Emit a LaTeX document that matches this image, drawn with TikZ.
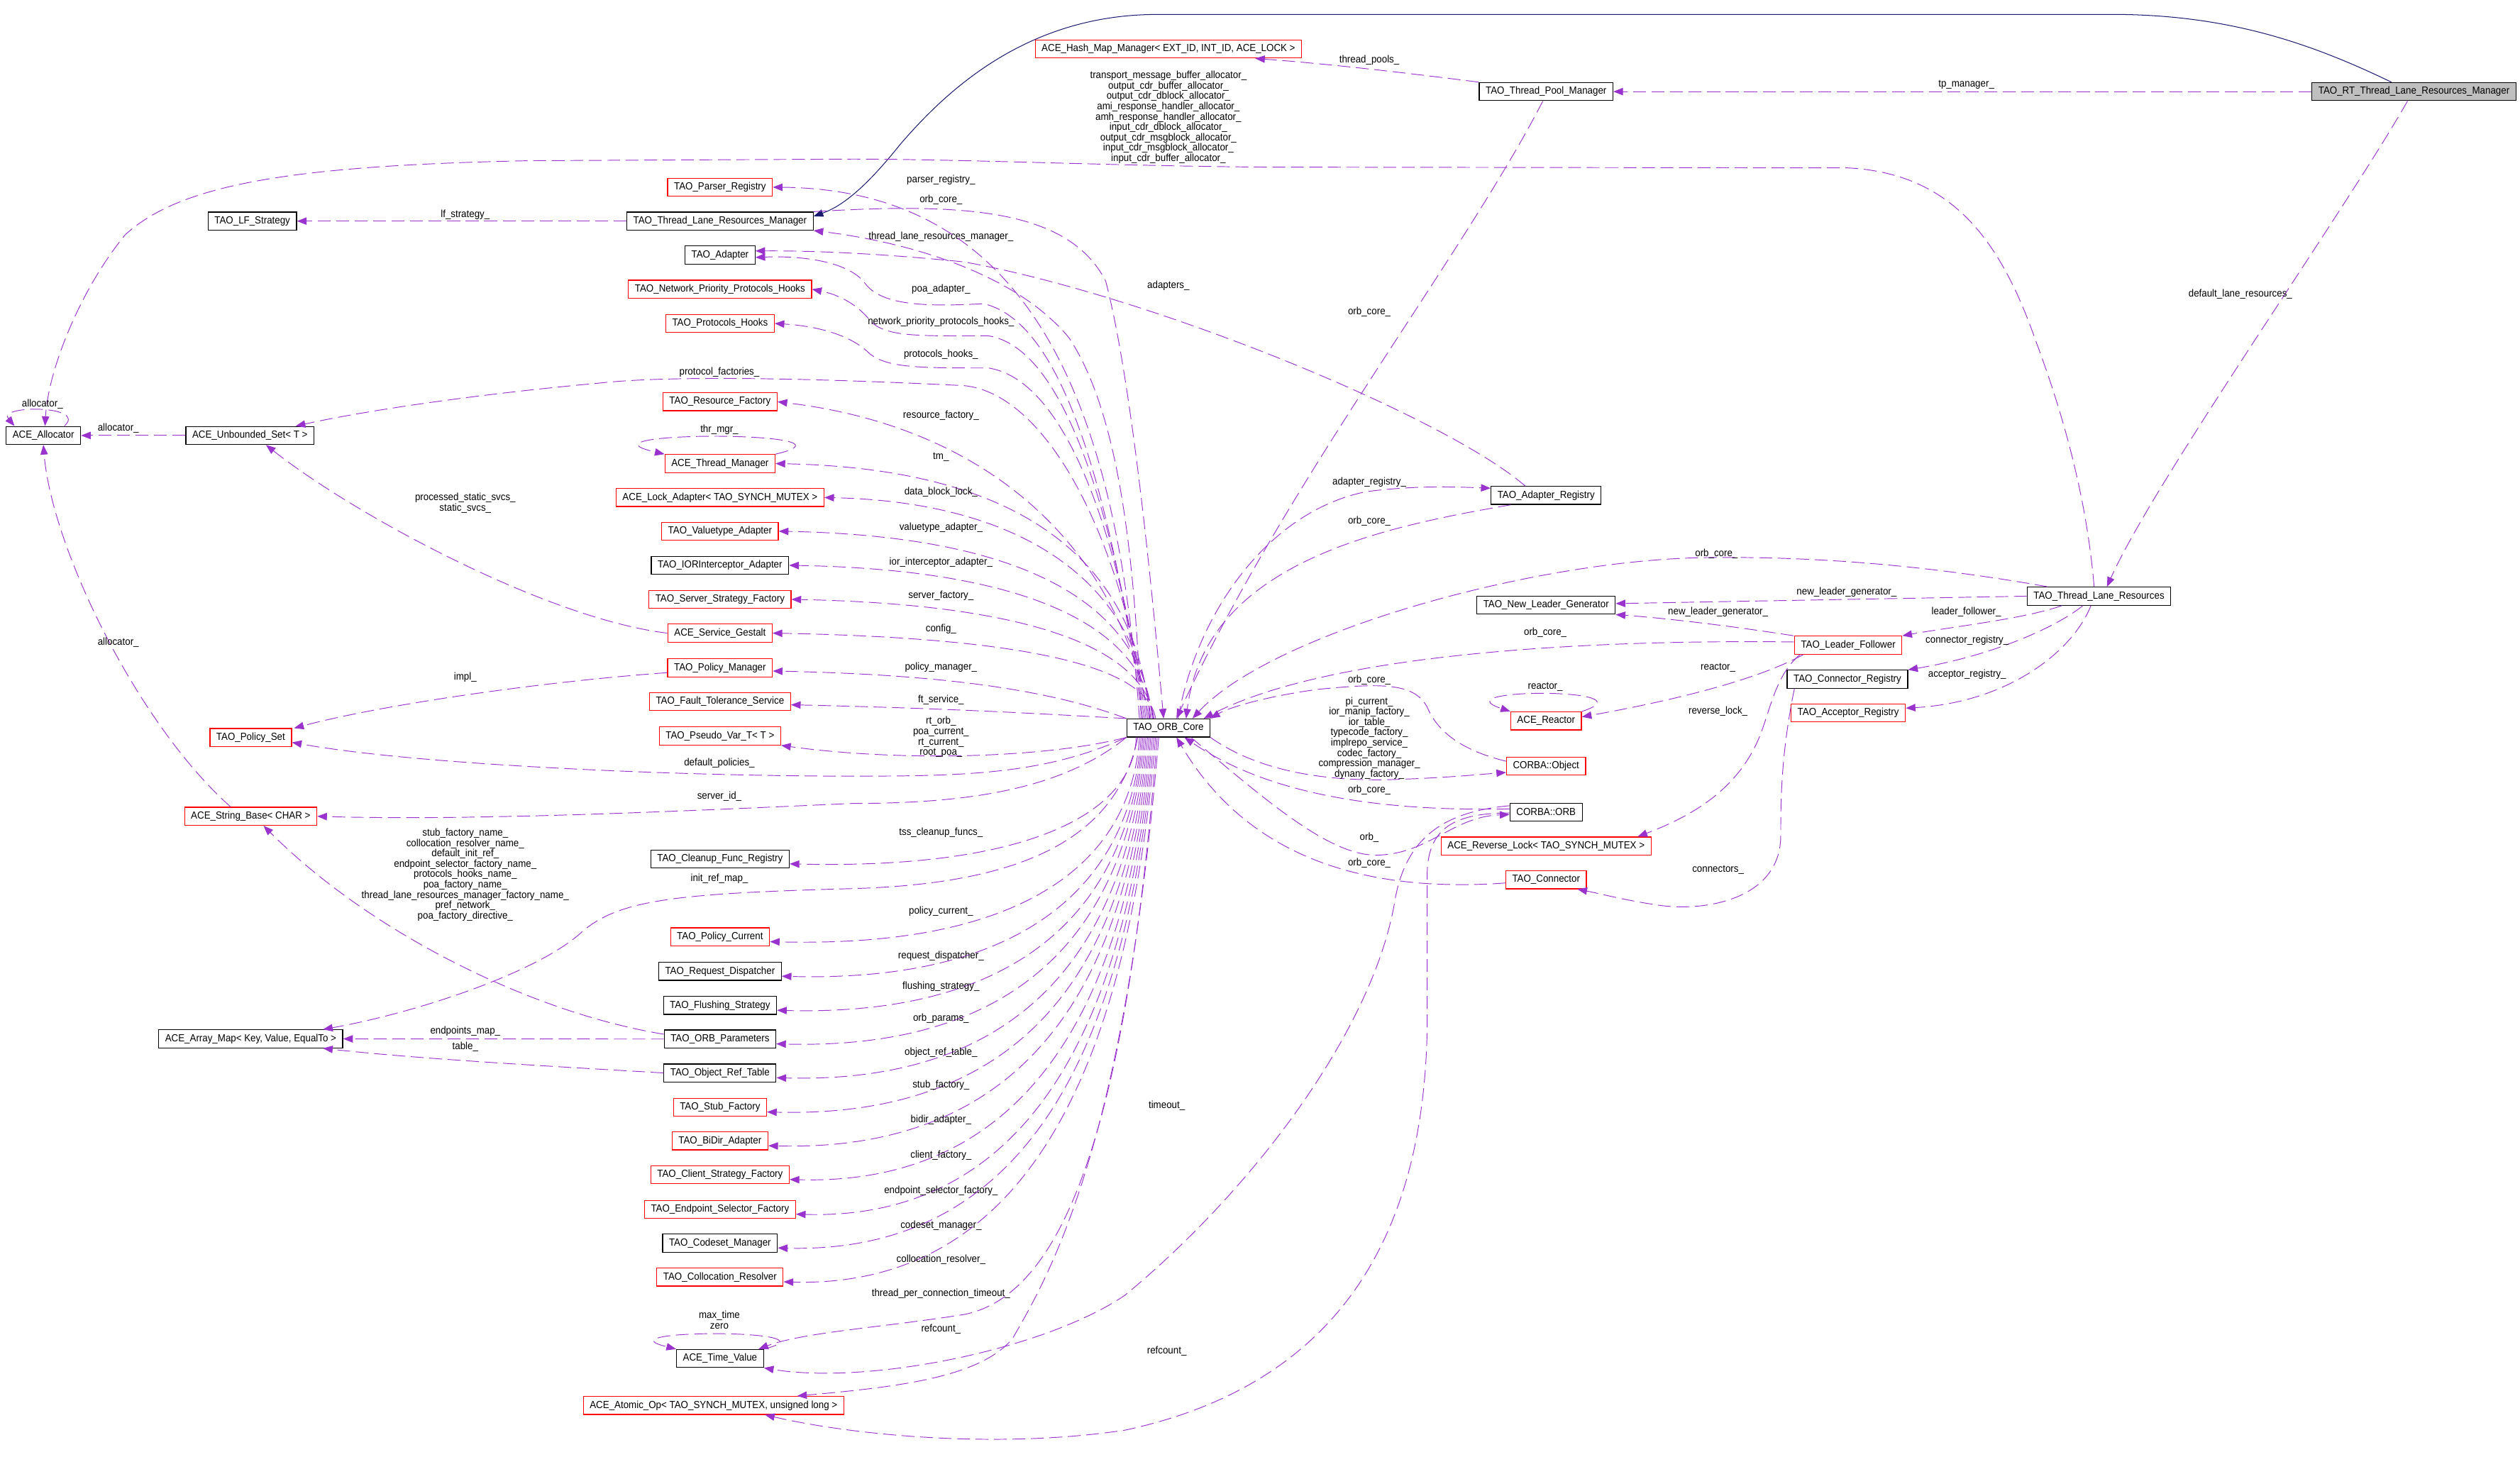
\documentclass[tikz,border=0pt]{standalone}
\usepackage{fontspec}
\newfontfamily\dotfont{Liberation Sans}[FakeStretch=0.92]
\usetikzlibrary{arrows.meta}
\definecolor{edgepurple}{HTML}{9A32CD}
\definecolor{basenavy}{HTML}{191970}
\definecolor{maingrey}{HTML}{BFBFBF}
\begin{document}
\begin{tikzpicture}[x=1pt, y=-1pt,
	cls/.style={draw=black, line width=0.55pt, inner xsep=4pt, inner ysep=0pt, minimum height=11.2pt, font=\dotfont\fontsize{6.4}{6.45}\selectfont},
	redcls/.style={cls, draw=red},
	maincls/.style={cls, fill=maingrey},
	lbl/.style={inner sep=0pt, align=center, font=\dotfont\fontsize{6.4}{6.45}\selectfont},
	member/.style={draw=edgepurple, line width=0.42pt, dash pattern=on 8pt off 3.5pt, -{Triangle[length=6pt,width=4.6pt]}},
	inherit/.style={draw=basenavy, line width=0.45pt, -{Triangle[length=6pt,width=4.6pt]}}]
	\useasboundingbox (0,0) rectangle (1568,920.4);
	\node[cls] (alloc) at (27,271) {ACE\_Allocator};
	\node[cls] (uset) at (155.5,271) {ACE\_Unbounded\_Set< T >};
	\node[cls] (lfs) at (157,137.6) {TAO\_LF\_Strategy};
	\node[redcls] (pset) at (156,459) {TAO\_Policy\_Set};
	\node[redcls] (sbase) at (156,508) {ACE\_String\_Base< CHAR >};
	\node[cls] (amap) at (156,646.5) {ACE\_Array\_Map< Key, Value, EqualTo >};
	\node[redcls] (parser) at (448,116.5) {TAO\_Parser\_Registry};
	\node[cls] (tlrm) at (448,137.6) {TAO\_Thread\_Lane\_Resources\_Manager};
	\node[cls] (adapter) at (448,158.7) {TAO\_Adapter};
	\node[redcls] (netprio) at (448,180) {TAO\_Network\_Priority\_Protocols\_Hooks};
	\node[redcls] (prothooks) at (448,201.3) {TAO\_Protocols\_Hooks};
	\node[redcls] (resfact) at (448,250) {TAO\_Resource\_Factory};
	\node[redcls] (thrmgr) at (448,288.5) {ACE\_Thread\_Manager};
	\node[redcls] (lockad) at (448,309.6) {ACE\_Lock\_Adapter< TAO\_SYNCH\_MUTEX >};
	\node[redcls] (valtype) at (448,330.6) {TAO\_Valuetype\_Adapter};
	\node[cls] (iorint) at (448,351.8) {TAO\_IORInterceptor\_Adapter};
	\node[redcls] (servstrat) at (448,373) {TAO\_Server\_Strategy\_Factory};
	\node[redcls] (gestalt) at (448,394) {ACE\_Service\_Gestalt};
	\node[redcls] (polmgr) at (448,415.6) {TAO\_Policy\_Manager};
	\node[redcls] (faulttol) at (448,436.6) {TAO\_Fault\_Tolerance\_Service};
	\node[redcls] (pseudovar) at (448,458) {TAO\_Pseudo\_Var\_T< T >};
	\node[cls] (cleanup) at (448,534.6) {TAO\_Cleanup\_Func\_Registry};
	\node[redcls] (polcur) at (448,583) {TAO\_Policy\_Current};
	\node[cls] (reqdisp) at (448,604.5) {TAO\_Request\_Dispatcher};
	\node[cls] (flushing) at (448,625.7) {TAO\_Flushing\_Strategy};
	\node[cls] (orbparams) at (448,646.6) {TAO\_ORB\_Parameters};
	\node[cls] (objref) at (448,667.7) {TAO\_Object\_Ref\_Table};
	\node[redcls] (stub) at (448,689) {TAO\_Stub\_Factory};
	\node[redcls] (bidir) at (448,710) {TAO\_BiDir\_Adapter};
	\node[redcls] (client) at (448,731) {TAO\_Client\_Strategy\_Factory};
	\node[redcls] (endpoint) at (448,752.6) {TAO\_Endpoint\_Selector\_Factory};
	\node[cls] (codeset) at (448,773.6) {TAO\_Codeset\_Manager};
	\node[redcls] (colloc) at (448,794.7) {TAO\_Collocation\_Resolver};
	\node[cls] (tv) at (448,845.4) {ACE\_Time\_Value};
	\node[redcls] (atomic) at (444,874.6) {ACE\_Atomic\_Op< TAO\_SYNCH\_MUTEX, unsigned long >};
	\node[cls] (oc) at (727,453) {TAO\_ORB\_Core};
	\node[redcls] (hashmap) at (727,30.5) {ACE\_Hash\_Map\_Manager< EXT\_ID, INT\_ID, ACE\_LOCK >};
	\node[cls] (tpm) at (962,57) {TAO\_Thread\_Pool\_Manager};
	\node[maincls] (rtm) at (1502,57) {TAO\_RT\_Thread\_Lane\_Resources\_Manager};
	\node[cls] (adreg) at (962,308.3) {TAO\_Adapter\_Registry};
	\node[cls] (tlr) at (1306,371) {TAO\_Thread\_Lane\_Resources};
	\node[cls] (nlg) at (962,376.6) {TAO\_New\_Leader\_Generator};
	\node[redcls] (lf) at (1150,401.5) {TAO\_Leader\_Follower};
	\node[cls] (creg) at (1149.5,422.7) {TAO\_Connector\_Registry};
	\node[redcls] (areg) at (1150,443.7) {TAO\_Acceptor\_Registry};
	\node[redcls] (reactor) at (962,448.6) {ACE\_Reactor};
	\node[redcls] (cobj) at (962,476.7) {CORBA::Object};
	\node[cls] (corb) at (962,505.4) {CORBA::ORB};
	\node[redcls] (rlock) at (962,526.5) {ACE\_Reverse\_Lock< TAO\_SYNCH\_MUTEX >};
	\node[redcls] (conn) at (962,547.5) {TAO\_Connector};
	\draw[inherit] ([xshift=-14pt]rtm.north) .. controls (1440,28) and (1390,10) .. (1320,9) -- (720,9) .. controls (640,9) and (590,55) .. (560,90) .. controls (540,115) and (525,128) .. ([yshift=3pt]tlrm.east);
	\draw[member] (rtm.west) -- (tpm.east) node[lbl] at (1223.5,52.5) {tp\_manager\_};
	\draw[member] ([xshift=-4pt]rtm.south) .. controls (1460,130) and (1340,300) .. ([xshift=5pt]tlr.north) node[lbl] at (1394,183) {default\_lane\_resources\_};
	\draw[member] (tpm.north west) .. controls (880,46) and (830,40) .. ([xshift=54pt]hashmap.south) node[lbl] at (852,37.5) {thread\_pools\_};
	\draw[member] ([xshift=-2pt]tpm.south) .. controls (910,160) and (800,300) .. ([xshift=5pt]oc.north) node[lbl] at (852,194) {orb\_core\_};
	\draw[member] ([xshift=-3pt]tlr.north) .. controls (1300,330) and (1292,280) .. (1267,213) .. controls (1245,150) and (1215,108) .. (1150,104.5) -- (790,104) .. controls (700,103.5) and (600,99) .. (530,99) -- (330,100) .. controls (180,103) and (112,115) .. (78,146) .. controls (50,180) and (30,230) .. ([xshift=1pt]alloc.north) node[lbl] at (727,73) {transport\_message\_buffer\_allocator\_\\output\_cdr\_buffer\_allocator\_\\output\_cdr\_dblock\_allocator\_\\ami\_response\_handler\_allocator\_\\amh\_response\_handler\_allocator\_\\input\_cdr\_dblock\_allocator\_\\output\_cdr\_msgblock\_allocator\_\\input\_cdr\_msgblock\_allocator\_\\input\_cdr\_buffer\_allocator\_};
	\draw[member] ([xshift=-32pt]tlr.north) .. controls (1200,352) and (1130,346) .. (1060,347) .. controls (950,349) and (790,395) .. ([xshift=15pt]oc.north) node[lbl] at (1068,344.5) {orb\_core\_};
	\draw[member] (tlr.west) -- ([yshift=1pt]nlg.east) node[lbl] at (1149,368.5) {new\_leader\_generator\_};
	\draw[member] ([xshift=-23pt]tlr.south) .. controls (1260,385) and (1215,390) .. (lf.north east) node[lbl] at (1223.5,381) {leader\_follower\_};
	\draw[member] ([xshift=-10pt]tlr.south) .. controls (1280,390) and (1240,408) .. (creg.north east) node[lbl] at (1224,398.5) {connector\_registry\_};
	\draw[member] ([xshift=-5pt]tlr.south) .. controls (1290,405) and (1250,437) .. ([yshift=3pt]areg.east) node[lbl] at (1224,419.5) {acceptor\_registry\_};
	\draw[member] ([xshift=-34pt]lf.north) .. controls (1080,390) and (1040,385) .. (nlg.south east) node[lbl] at (1069,381) {new\_leader\_generator\_};
	\draw[member] ([yshift=2pt]lf.west) .. controls (1000,398) and (830,405) .. ([xshift=22pt]oc.north) node[lbl] at (961.5,393.5) {orb\_core\_};
	\draw[member] ([xshift=-28pt]lf.south) .. controls (1090,425) and (1030,438) .. ([yshift=2.5pt]reactor.east) node[lbl] at (1069,415.5) {reactor\_};
	\draw[member] ([xshift=-30pt]lf.south) .. controls (1105,420) and (1102,440) .. (1095,458) .. controls (1082,490) and (1055,507) .. ([xshift=57pt]rlock.north) node[lbl] at (1069,442.5) {reverse\_lock\_};
	\draw[member] ([xshift=-33pt]creg.south) .. controls (1108,470) and (1108,500) .. (1108,520) .. controls (1108,560) and (1060,568) .. (1030,563) .. controls (1010,560) and (995,556) .. ([xshift=19.5pt]conn.south) node[lbl] at (1069,541.5) {connectors\_};
	\draw[member] (reactor.north east) .. controls (1030,428) and (895,428) .. (reactor.north west) node[lbl] at (961.5,427.5) {reactor\_};
	\draw[member] ([xshift=-13pt]adreg.north) .. controls (900,260) and (720,185) .. (600,163) .. controls (540,157) and (500,156) .. ([yshift=2.5pt]adapter.east) node[lbl] at (727,178) {adapters\_};
	\draw[member] ([xshift=6pt]oc.north) .. controls (745,380) and (790,318) .. (850,306) .. controls (880,302) and (905,303) .. ([yshift=4.5pt]adreg.west) node[lbl] at (852,300) {adapter\_registry\_};
	\draw[member] ([xshift=-22pt]adreg.south) .. controls (860,328) and (750,350) .. ([xshift=11pt]oc.north) node[lbl] at (852,324.5) {orb\_core\_};
	\draw[member] (oc.south east) .. controls (780,478) and (820,487) .. (870,485) .. controls (900,484) and (920,482) .. ([yshift=-4pt]cobj.west) node[lbl] at (852,459.3) {pi\_current\_\\ior\_manip\_factory\_\\ior\_table\_\\typecode\_factory\_\\implrepo\_service\_\\codec\_factory\_\\compression\_manager\_\\dynany\_factory\_};
	\draw[member] ([yshift=3pt]cobj.west) .. controls (905,466) and (893,452) .. (888,440) .. controls (880,425) and (860,425) .. (820,429) .. controls (790,433) and (765,440) .. (oc.north east) node[lbl] at (852,423) {orb\_core\_};
	\draw[member] ([yshift=2pt]corb.west) .. controls (860,505) and (790,495) .. ([xshift=10pt]oc.south) node[lbl] at (852,491.5) {orb\_core\_};
	\draw[member] ([xshift=14pt]oc.south) .. controls (790,500) and (830,535) .. (860,532) .. controls (890,530) and (905,508) .. ([yshift=-1.5pt]corb.west) node[lbl] at (852,521) {orb\_};
	\draw[member] ([yshift=-2pt]conn.west) .. controls (860,555) and (780,540) .. ([xshift=5pt]oc.south) node[lbl] at (852,537) {orb\_core\_};
	\draw[member] ([yshift=4pt]corb.west) .. controls (900,505) and (875,520) .. (868,560) .. controls (855,640) and (780,740) .. (700,806) .. controls (650,840) and (540,862) .. (tv.south east) node[lbl] at (726,688) {timeout\_};
	\draw[member] ([yshift=-0.5pt]corb.west) .. controls (905,506) and (888,515) .. (888,545) -- (888,640) .. controls (886,760) and (840,860) .. (700,890) .. controls (620,902) and (530,893) .. ([xshift=32pt]atomic.south) node[lbl] at (726,841) {refcount\_};
	\draw[member] (tlrm.west) -- (lfs.east) node[lbl] at (289.5,133.5) {lf\_strategy\_};
	\draw[member] (tlrm.north east) .. controls (600,126) and (665,130) .. (688,175) .. controls (705,240) and (718,380) .. ([xshift=-3pt]oc.north) node[lbl] at (585.5,124.5) {orb\_core\_};
	\draw[member] ([xshift=-17pt]oc.north) .. controls (706,340) and (695,255) .. (665,210) .. controls (630,168) and (560,150) .. (tlrm.south east) node[lbl] at (585.5,147.5) {thread\_lane\_resources\_manager\_};
	\draw[member] ([xshift=-18pt]oc.north) .. controls (695,248) and (640,118) .. (parser.east) node[lbl] at (585.5,112) {parser\_registry\_};
	\draw[member] ([xshift=-16pt]oc.north) .. controls (690,300) and (660,200) .. (612,189) .. controls (575,191) and (548,190) .. (538,176) .. controls (528,163) and (500,159) .. ([yshift=-1.5pt]adapter.east) node[lbl] at (585.5,180) {poa\_adapter\_};
	\draw[member] ([xshift=-15pt]oc.north) .. controls (692,310) and (660,216) .. (615,209) .. controls (572,209) and (550,210) .. (541,199) .. controls (532,188) and (520,183) .. (netprio.east) node[lbl] at (585.5,200.5) {network\_priority\_protocols\_hooks\_};
	\draw[member] ([xshift=-14pt]oc.north) .. controls (694,320) and (660,236) .. (615,229) .. controls (572,229) and (552,229) .. (541,220) .. controls (530,209) and (510,203) .. (prothooks.east) node[lbl] at (585.5,220.5) {protocols\_hooks\_};
	\draw[member] ([xshift=-13pt]oc.north) .. controls (697,330) and (650,245) .. (600,240) .. controls (520,236) and (420,233) .. (372,238.5) .. controls (300,245) and (230,255) .. ([xshift=28.5pt]uset.north) node[lbl] at (447.6,231.5) {protocol\_factories\_};
	\draw[member] ([xshift=-12pt]oc.north) .. controls (698,350) and (625,267) .. (resfact.east) node[lbl] at (585.5,258.5) {resource\_factory\_};
	\draw[member] ([xshift=-11.5pt]oc.north) .. controls (707,352) and (640,291.5) .. (thrmgr.east) node[lbl] at (585.5,284.5) {tm\_};
	\draw[member] ([xshift=-11pt]oc.north) .. controls (708,365) and (640,312.5) .. (lockad.east) node[lbl] at (585.5,306) {data\_block\_lock\_};
	\draw[member] ([xshift=-10pt]oc.north) .. controls (710,377) and (640,333.5) .. (valtype.east) node[lbl] at (585.5,328.5) {valuetype\_adapter\_};
	\draw[member] ([xshift=-9.5pt]oc.north) .. controls (711,390) and (640,354.5) .. (iorint.east) node[lbl] at (585.5,350) {ior\_interceptor\_adapter\_};
	\draw[member] ([xshift=-9pt]oc.north) .. controls (712,403) and (640,376) .. (servstrat.east) node[lbl] at (585.5,370.5) {server\_factory\_};
	\draw[member] ([xshift=-8pt]oc.north) .. controls (714,415) and (640,397) .. (gestalt.east) node[lbl] at (585.5,391.5) {config\_};
	\draw[member] (oc.north west) .. controls (660,432) and (600,420) .. ([yshift=-2pt]polmgr.east) node[lbl] at (585.5,415.5) {policy\_manager\_};
	\draw[member] (oc.north west) .. controls (660,445) and (600,441) .. ([yshift=-2pt]faulttol.east) node[lbl] at (585.5,435.5) {ft\_service\_};
	\draw[member] (oc.south west) .. controls (650,472) and (560,474) .. (pseudovar.south east) node[lbl] at (585.5,458.7) {rt\_orb\_\\poa\_current\_\\rt\_current\_\\root\_poa\_};
	\draw[member] (oc.south west) .. controls (650,482) and (600,483) .. (530,483) .. controls (420,483) and (260,476) .. ([yshift=-3pt]pset.east) node[lbl] at (447.6,475) {default\_policies\_};
	\draw[member] (oc.south west) .. controls (660,492) and (600,500) .. (530,500) .. controls (440,504) and (300,511) .. (sbase.east) node[lbl] at (447.6,495.5) {server\_id\_};
	\draw[member] ([xshift=-20pt]oc.south) .. controls (705,506) and (640,541) .. ([yshift=-3pt]cleanup.east) node[lbl] at (585.5,518) {tss\_cleanup\_funcs\_};
	\draw[member] ([xshift=-19pt]oc.south) .. controls (695,520) and (640,550) .. (530,553) .. controls (420,556) and (385,560) .. (362,580) .. controls (335,605) and (260,630) .. ([xshift=45pt]amap.north) node[lbl] at (447.6,547) {init\_ref\_map\_};
	\draw[member] ([xshift=-18pt]oc.south) .. controls (704,535) and (640,590) .. ([yshift=-3pt]polcur.east) node[lbl] at (585.5,567) {policy\_current\_};
	\draw[member] ([xshift=-17pt]oc.south) .. controls (704,548) and (640,611.5) .. ([yshift=-3pt]reqdisp.east) node[lbl] at (585.5,595) {request\_dispatcher\_};
	\draw[member] ([xshift=-16pt]oc.south) .. controls (703,561) and (640,632.7) .. ([yshift=-3pt]flushing.east) node[lbl] at (585.5,614) {flushing\_strategy\_};
	\draw[member] ([xshift=-15pt]oc.south) .. controls (702,573) and (640,653.6) .. ([yshift=-3pt]orbparams.east) node[lbl] at (585.5,634) {orb\_params\_};
	\draw[member] ([xshift=-14pt]oc.south) .. controls (702,586) and (640,674.7) .. ([yshift=-3pt]objref.east) node[lbl] at (585.5,655) {object\_ref\_table\_};
	\draw[member] ([xshift=-13pt]oc.south) .. controls (702,599) and (640,696) .. ([yshift=-3pt]stub.east) node[lbl] at (585.5,675.5) {stub\_factory\_};
	\draw[member] ([xshift=-12pt]oc.south) .. controls (702,611) and (640,717) .. ([yshift=-3pt]bidir.east) node[lbl] at (585.5,697) {bidir\_adapter\_};
	\draw[member] ([xshift=-11pt]oc.south) .. controls (702,624) and (640,738) .. ([yshift=-3pt]client.east) node[lbl] at (585.5,719) {client\_factory\_};
	\draw[member] ([xshift=-10pt]oc.south) .. controls (702,637) and (640,759.6) .. ([yshift=-3pt]endpoint.east) node[lbl] at (585.5,741) {endpoint\_selector\_factory\_};
	\draw[member] ([xshift=-9pt]oc.south) .. controls (702,650) and (640,780.6) .. ([yshift=-3pt]codeset.east) node[lbl] at (585.5,762.5) {codeset\_manager\_};
	\draw[member] ([xshift=-8pt]oc.south) .. controls (702,662) and (640,801.7) .. ([yshift=-3pt]colloc.east) node[lbl] at (585.5,784) {collocation\_resolver\_};
	\draw[member] ([xshift=-7pt]oc.south) .. controls (702,690) and (665,805) .. (600,818) .. controls (550,826) and (500,829) .. ([xshift=24pt]tv.north) node[lbl] at (585.5,805) {thread\_per\_connection\_timeout\_};
	\draw[member] ([xshift=-6pt]oc.south) .. controls (700,710) and (655,790) .. (630,833) .. controls (610,857) and (560,863) .. ([xshift=52pt]atomic.north) node[lbl] at (585.5,827) {refcount\_};
	\draw[member] (thrmgr.north east) .. controls (545,268) and (350,268) .. (thrmgr.north west) node[lbl] at (447.6,267.5) {thr\_mgr\_};
	\draw[member] (tv.north east) .. controls (525,827) and (370,827) .. (tv.north west) node[lbl] at (447.6,821.5) {max\_time\\zero};
	\draw[member] ([xshift=13pt]alloc.north) .. controls (55,252) and (-2,252) .. ([xshift=-18pt]alloc.north) node[lbl] at (26.4,251.5) {allocator\_};
	\draw[member] (uset.west) -- (alloc.east) node[lbl] at (73.6,266.5) {allocator\_};
	\draw[member] ([xshift=-12.5pt]sbase.north) .. controls (85,450) and (32,340) .. (alloc.south) node[lbl] at (73.6,400) {allocator\_};
	\draw[member] (gestalt.west) .. controls (340,385) and (220,320) .. ([xshift=10pt]uset.south) node[lbl] at (289.5,313) {processed\_static\_svcs\_\\static\_svcs\_};
	\draw[member] ([yshift=-3pt]polmgr.west) .. controls (340,424) and (240,438) .. ([xshift=27pt]pset.north) node[lbl] at (289.5,421.5) {impl\_};
	\draw[member] ([yshift=3pt]orbparams.west) .. controls (330,630) and (230,580) .. ([xshift=8pt]sbase.south) node[lbl] at (289.5,544.4) {stub\_factory\_name\_\\collocation\_resolver\_name\_\\default\_init\_ref\_\\endpoint\_selector\_factory\_name\_\\protocols\_hooks\_name\_\\poa\_factory\_name\_\\thread\_lane\_resources\_manager\_factory\_name\_\\pref\_network\_\\poa\_factory\_directive\_};
	\draw[member] (orbparams.west) -- (amap.east) node[lbl] at (289.5,641.8) {endpoints\_map\_};
	\draw[member] (objref.west) .. controls (350,664) and (260,659) .. ([xshift=45pt]amap.south) node[lbl] at (289.5,651.4) {table\_};
\end{tikzpicture}
\end{document}
